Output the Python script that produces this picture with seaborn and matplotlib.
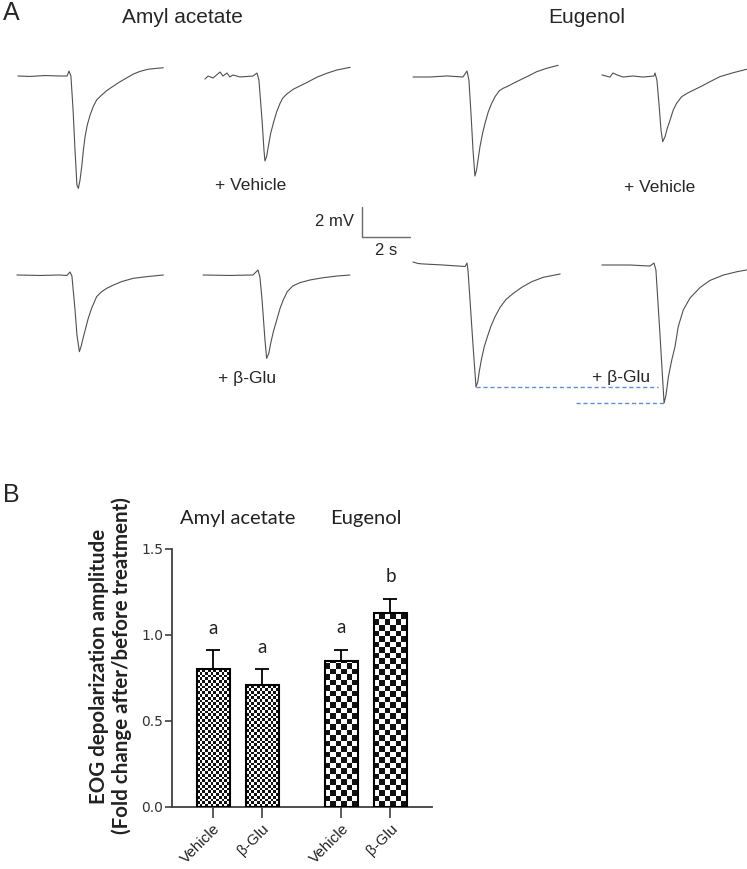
import numpy as np
import pandas as pd
import seaborn as sns
import matplotlib.pyplot as plt
from matplotlib import colors

# ---- panel A: EOG traces, time (s) from odor pulse, voltage (mV) from baseline
amyl_pre1_t = [-2.13, -1.63, -1.0, -0.38, -0.08, 0, 0.08, 0.17, 0.25, 0.33, 0.39, 0.46, 0.53, 0.60, 0.67,
               0.76, 0.88, 1.01, 1.15, 1.36, 1.57, 1.85, 2.13, 2.40, 2.68, 2.96, 3.30, 3.65, 3.93]
amyl_pre1_v = [0, -0.03, 0.03, 0, 0, 0.33, 0, -2.27, -4.93, -7.27, -7.49, -6.93, -6.04, -4.93, -4.04,
               -3.27, -2.6, -2.04, -1.6, -1.27, -0.98, -0.67, -0.38, -0.13, 0.13, 0.31, 0.45, 0.51, 0.55]
amyl_veh_t = [-2.17, -2.04, -1.83, -1.54, -1.42, -1.25, -1.13, -1.0, -0.71, -0.17, 0, 0.08, 0.21, 0.29, 0.33,
              0.40, 0.47, 0.57, 0.68, 0.82, 0.96, 1.07, 1.24, 1.51, 1.79, 2.14, 2.49, 2.90, 3.32, 3.88]
amyl_veh_v = [-0.17, 0.03, -0.1, 0.3, 0.03, 0.23, -0.03, 0.1, -0.03, 0.03, 0.23, -0.23, -2.9, -4.9, -5.63,
              -5.34, -4.68, -3.79, -3.12, -2.35, -1.79, -1.45, -1.17, -0.85, -0.63, -0.35, -0.05, 0.21, 0.43, 0.61]
eug_pre1_t = [-2.25, -1.54, -0.83, -0.17, 0, 0.08, 0.17, 0.25, 0.33, 0.40, 0.47, 0.54, 0.65, 0.75, 0.89,
              1.03, 1.17, 1.35, 1.51, 1.72, 1.93, 2.21, 2.56, 2.90, 3.32, 3.80]
eug_pre1_v = [0, 0, 0.07, 0, 0.4, -0.2, -2.53, -4.87, -6.6, -6.18, -5.42, -4.65, -3.75, -3.09, -2.31,
              -1.75, -1.31, -0.91, -0.75, -0.6, -0.42, -0.2, 0.07, 0.35, 0.58, 0.78]
eug_veh_t = [-2.21, -1.88, -1.75, -1.58, -1.33, -0.92, -0.5, -0.04, 0, 0.08, 0.17, 0.25, 0.32, 0.42, 0.51,
             0.63, 0.76, 0.90, 1.11, 1.39, 1.67, 1.95, 2.29, 2.71, 3.26, 3.82]
eug_veh_v = [0.07, -0.07, 0.2, 0.07, -0.07, 0, -0.07, 0, 0.2, -0.27, -1.93, -3.6, -4.38, -4.04, -3.49,
             -2.93, -2.27, -1.82, -1.38, -1.11, -0.89, -0.67, -0.38, -0.04, 0.22, 0.45]
amyl_pre2_t = [-2.21, -1.25, -0.42, -0.13, 0, 0.08, 0.21, 0.29, 0.39, 0.46, 0.56, 0.67, 0.76, 0.90, 1.11,
               1.32, 1.53, 1.81, 2.15, 2.64, 3.2, 3.89]
amyl_pre2_v = [0, -0.03, 0, -0.03, 0.2, -0.07, -2.33, -4.0, -5.11, -4.78, -4.11, -3.44, -2.89, -2.22, -1.44,
               -1.11, -0.89, -0.67, -0.44, -0.22, -0.11, 0]
amyl_glu_t = [-2.29, -1.17, -0.21, 0, 0.08, 0.17, 0.29, 0.36, 0.45, 0.53, 0.64, 0.78, 0.92, 1.05, 1.22,
              1.45, 1.75, 2.17, 2.72, 3.28, 3.83]
amyl_glu_v = [0, -0.03, 0, 0.33, -0.13, -1.67, -4.33, -5.56, -5.22, -4.55, -3.78, -3.0, -2.22, -1.67, -1.11,
              -0.73, -0.51, -0.33, -0.18, -0.07, 0]
eug_pre2_t = [-2.25, -2.04, -1.83, -1.0, -0.08, 0, 0.04, 0.125, 0.25, 0.375, 0.45, 0.51, 0.61, 0.72, 0.85,
              0.99, 1.17, 1.38, 1.63, 1.93, 2.28, 2.70, 3.18, 3.88]
eug_pre2_v = [0.2, 0.1, 0.07, 0, -0.1, 0.13, -0.33, -2.33, -5.33, -8.13, -7.78, -7.11, -6.22, -5.44, -4.78,
              -4.11, -3.44, -2.82, -2.29, -1.89, -1.49, -1.11, -0.82, -0.6]
eug_glu_t = [-2.17, -1.0, -0.17, 0, 0.08, 0.25, 0.42, 0.5, 0.60, 0.74, 0.875, 1.01, 1.22, 1.5, 1.92,
             2.33, 2.89, 3.45, 3.86]
eug_glu_v = [0, 0, -0.07, 0.13, -0.33, -4.67, -9.2, -8.67, -7.45, -6.33, -5.45, -4.11, -3.0, -2.2, -1.5,
             -1.03, -0.67, -0.45, -0.33]

scale_mv = 2
scale_s = 2

# ---- panel B: fold change of EOG amplitude
odorants = ['Amyl acetate', 'Eugenol']
treatments = ['Vehicle', 'β-Glu']
fold_vehicle = [0.80, 0.85]
fold_glu = [0.71, 1.13]
sem_vehicle = [0.11, 0.065]
sem_glu = [0.09, 0.08]
letters_vehicle = ['a', 'a']
letters_glu = ['a', 'b']

W, H = 747, 869
PX_S, PX_MV = 24.0, 15.0   # scale bar: 48 px = 2 s, 30 px = 2 mV


def fxy(x, y):
    return x / W, 1 - y / H


sns.set_style('ticks')
plt.rcParams['font.family'] = ['Liberation Sans', 'DejaVu Sans']

fig = plt.figure(figsize=(W / 100, H / 100), dpi=100)

# ================= panel A =================
ax_a = fig.add_axes([0, 1 - 430 / H, 1, 430 / H])
ax_a.set_xlim(0, W / PX_S)
ax_a.set_ylim(-430 / PX_MV, 0)
ax_a.axis('off')

traces = [(amyl_pre1_t, amyl_pre1_v, 69, 76), (amyl_veh_t, amyl_veh_v, 257, 76.5),
          (eug_pre1_t, eug_pre1_v, 467, 77), (eug_veh_t, eug_veh_v, 655, 76),
          (amyl_pre2_t, amyl_pre2_v, 70, 275), (amyl_glu_t, amyl_glu_v, 258, 275),
          (eug_pre2_t, eug_pre2_v, 467, 265), (eug_glu_t, eug_glu_v, 654, 265)]
placed = []
for t, v, bx, by in traces:
    x = np.array(t) + bx / PX_S
    y = np.array(v) - by / PX_MV
    placed.append((x, y))
    sns.lineplot(x=x, y=y, sort=False, estimator=None, color='#505050', lw=0.8, ax=ax_a)

# dashed guides at the two eugenol minima
x7, y7 = placed[6]
x8, y8 = placed[7]
i7, i8 = np.argmin(y7), np.argmin(y8)
ax_a.plot([x7[i7], x8[i8] - 0.25], [y7[i7], y7[i7]], ls=(0, (3, 2)), color='#5b8fd8', lw=1)
ax_a.plot([576 / PX_S, x8[i8]], [y8[i8], y8[i8]], ls=(0, (3, 2)), color='#5b8fd8', lw=1)

# scale bar
sx, sy = 362 / PX_S, -237 / PX_MV
ax_a.plot([sx, sx, sx + scale_s], [sy + scale_mv, sy, sy], color='#6a6a6a', lw=1)

fig.text(*fxy(3, 20), 'A', fontsize=18, va='baseline')
fig.text(*fxy(182, 23), 'Amyl acetate', fontsize=15, ha='center', va='baseline')
fig.text(*fxy(587, 23), 'Eugenol', fontsize=15, ha='center', va='baseline')
fig.text(*fxy(251, 190), '+ Vehicle', fontsize=12.5, ha='center', va='baseline')
fig.text(*fxy(660, 192), '+ Vehicle', fontsize=12.5, ha='center', va='baseline')
fig.text(*fxy(247, 383), '+ β-Glu', fontsize=12.5, ha='center', va='baseline')
fig.text(*fxy(621, 382), '+ β-Glu', fontsize=12.5, ha='center', va='baseline')
fig.text(*fxy(354, 226), f'{scale_mv} mV', fontsize=12, ha='right', va='baseline')
fig.text(*fxy(386, 255), f'{scale_s} s', fontsize=12, ha='center', va='baseline')

# ================= panel B =================
df = pd.DataFrame({
    'odorant': odorants * 2,
    'treatment': [treatments[0]] * 2 + [treatments[1]] * 2,
    'fold': fold_vehicle + fold_glu,
})
sems = {treatments[0]: sem_vehicle, treatments[1]: sem_glu}
letters = {treatments[0]: letters_vehicle, treatments[1]: letters_glu}

ax_b = fig.add_axes([172 / W, 1 - 807 / H, 260 / W, 258 / H])
sns.barplot(data=df, x='odorant', y='fold', hue='treatment', order=odorants,
            hue_order=treatments, width=0.763, gap=0.327, errorbar=None,
            legend=False, edgecolor='black', linewidth=1.5, ax=ax_b)
xlim, ylim = (-0.51, 1.514), (0, 1.5)
ax_b.set_xlim(*xlim)
ax_b.set_ylim(*ylim)
ax_b.set_xlabel('')
ax_b.set_ylabel('')

checker_cmap = colors.ListedColormap(['white', '#111111'])
cell_px = [2.7, 5.3]   # fine checks for amyl acetate, coarse for eugenol
ticks = []
for treat, cont in zip(treatments, ax_b.containers):
    for j, bar in enumerate(cont):
        bar.set_facecolor('none')
        bar.set_zorder(3)
        x0, w, h = bar.get_x(), bar.get_width(), bar.get_height()
        (px0, py0), (px1, py1) = ax_b.transData.transform([(x0, 0), (x0 + w, h)])
        nx = max(1, int(round((px1 - px0) / cell_px[j])))
        side = (px1 - px0) / nx
        ny = int(np.ceil((py1 - py0) / side))
        cell_y = h * side / (py1 - py0)
        img = np.add.outer(np.arange(ny), np.arange(nx)) % 2
        im = ax_b.imshow(img, cmap=checker_cmap, extent=[x0, x0 + w, 0, ny * cell_y],
                         origin='lower', interpolation='nearest', aspect='auto', zorder=2)
        im.set_clip_path(bar)
        xc = x0 + w / 2
        s = sems[treat][j]
        ax_b.errorbar([xc], [h], yerr=[[0], [s]], fmt='none', ecolor='black',
                      elinewidth=1.3, capsize=4.7, capthick=1.3, zorder=4)
        ax_b.text(xc, h + s + 0.13, letters[treat][j], ha='center', va='center',
                  fontsize=13.5, family='Lato', color='#222222')
        ticks.append((xc, treat))

ax_b.set_xlim(*xlim)
ax_b.set_ylim(*ylim)
ticks.sort()
ax_b.set_xticks([t[0] for t in ticks])
ax_b.set_xticklabels([t[1] for t in ticks], rotation=45, ha='right',
                     rotation_mode='anchor', fontsize=11)
ax_b.set_yticks([0, 0.5, 1.0, 1.5])
ax_b.set_yticklabels([f'{v:.1f}' for v in [0, 0.5, 1.0, 1.5]], fontsize=10,
                     family='DejaVu Sans', color='#333333')
ax_b.tick_params(axis='x', length=8, width=1.2, colors='#404040', labelcolor='#222222', pad=2.5)
ax_b.tick_params(axis='y', length=5, width=1.2, colors='#404040', labelcolor='#333333', pad=1.5)
sns.despine(ax=ax_b)
for sp in ['left', 'bottom']:
    ax_b.spines[sp].set_linewidth(1.3)
    ax_b.spines[sp].set_color('#404040')

for j, odor in enumerate(odorants):
    ax_b.text(j, 1.645, odor, ha='center', va='baseline', fontsize=14.5,
              family='Lato', color='#222222', clip_on=False)

fig.text(*fxy(110.5, 666), 'EOG depolarization amplitude\n(Fold change after/before treatment)',
         rotation=90, ha='center', va='center', multialignment='center',
         fontsize=14.8, fontweight='bold', family='Lato', linespacing=1.15, color='#222222')
fig.text(*fxy(3, 502), 'B', fontsize=18, va='baseline')

fig.savefig('out.png', dpi=100)
